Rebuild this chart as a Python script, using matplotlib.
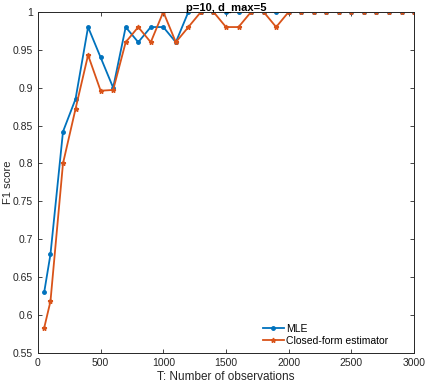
import matplotlib
matplotlib.use("Agg")
import matplotlib.pyplot as plt

plt.rcParams['font.family'] = ['Liberation Sans', 'DejaVu Sans']

T = [50, 100, 200, 300, 400, 500, 600, 700, 800, 900, 1000, 1100, 1200, 1300, 1400, 1500,
     1600, 1700, 1800, 1900, 2000, 2100, 2200, 2300, 2400, 2500, 2600, 2700, 2800, 2900, 3000]
mle = [0.63, 0.68, 0.842, 0.885, 0.98, 0.94, 0.90, 0.98, 0.96, 0.98, 0.98, 0.96, 1.0, 1.0, 1.0, 1.0,
       1.0, 1.0, 1.0, 1.0, 1.0, 1.0, 1.0, 1.0, 1.0, 1.0, 1.0, 1.0, 1.0, 1.0, 1.0]
closed = [0.583, 0.618, 0.80, 0.872, 0.943, 0.896, 0.897, 0.96, 0.98, 0.96, 1.0, 0.96, 0.98, 1.0, 1.0, 0.98,
          0.98, 1.0, 1.0, 0.98, 1.0, 1.0, 1.0, 1.0, 1.0, 1.0, 1.0, 1.0, 1.0, 1.0, 1.0]

fig = plt.figure(figsize=(4.26, 3.84), dpi=100)
ax = fig.add_axes([0.089, 0.081, 0.883, 0.888])

ax.plot(T, mle, color='#0072BD', marker='o', markersize=2.5, linewidth=1.3, label='MLE')
ax.plot(T, closed, color='#D95319', marker='*', markersize=3.5, linewidth=1.3, label='Closed-form estimator')

ax.set_xlim(0, 3000)
ax.set_ylim(0.55, 1.0)
ax.set_xticks(range(0, 3001, 500))
ax.set_yticks([0.55, 0.6, 0.65, 0.7, 0.75, 0.8, 0.85, 0.9, 0.95, 1.0])
ax.set_yticklabels(['0.55', '0.6', '0.65', '0.7', '0.75', '0.8', '0.85', '0.9', '0.95', '1'])
ax.tick_params(direction='in', length=3, width=0.6, labelsize=7.5, top=True, right=True, colors='#262626')
for s in ax.spines.values():
    s.set_linewidth(0.7)
    s.set_color('#262626')

ax.set_xlabel('T: Number of observations', fontsize=8.5, color='#262626', labelpad=2)
ax.set_ylabel('F1 score', fontsize=8, color='#262626')
ax.yaxis.set_label_coords(-0.066, 0.5)
ax.set_title('p=10, d_max=5', fontsize=8, fontweight='bold', pad=1)

ax.legend(loc='lower right', bbox_to_anchor=(0.95, 0.0), frameon=False, fontsize=7.5,
          handlelength=2.0, handletextpad=0.2, borderaxespad=0.3, labelspacing=0.2)

fig.savefig('out.png', dpi=100)
